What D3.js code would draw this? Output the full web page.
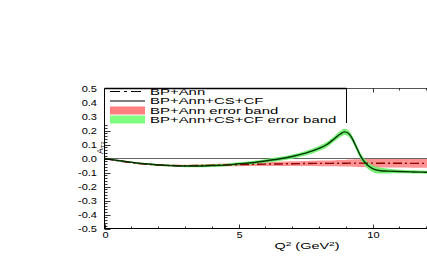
<!DOCTYPE html>
<html><head><meta charset="utf-8">
<script src="https://cdn.jsdelivr.net/npm/d3@7"></script>
<style>body{margin:0;background:#fff}svg{display:block}text{font-family:"Liberation Sans",Arial,sans-serif}</style>
</head><body><svg id="c" width="427" height="262"></svg>
<script>
// Data
const q2 = [0, 0.5, 1, 1.5, 2, 2.5, 3, 3.5, 4, 4.5, 5, 5.5, 6, 6.5, 7, 7.5, 8, 8.3, 8.6, 8.8, 8.95, 9.1, 9.25, 9.4, 9.6, 9.8, 10, 10.3, 10.6, 11, 11.5, 12, 12.5];
const annCsCf = [0, -0.014, -0.027, -0.038, -0.046, -0.051, -0.054, -0.054, -0.051, -0.047, -0.038, -0.03, -0.018, -0.004, 0.014, 0.038, 0.072, 0.1, 0.145, 0.175, 0.19, 0.18, 0.14, 0.08, 0.002, -0.045, -0.072, -0.087, -0.09, -0.093, -0.096, -0.098, -0.099];
const annCsCfErr = [0.001, 0.003, 0.004, 0.005, 0.006, 0.007, 0.008, 0.009, 0.01, 0.01, 0.011, 0.012, 0.013, 0.014, 0.015, 0.016, 0.018, 0.019, 0.02, 0.021, 0.022, 0.022, 0.022, 0.022, 0.023, 0.024, 0.024, 0.021, 0.017, 0.013, 0.012, 0.011, 0.011];
const ann = [0, -0.016, -0.03, -0.04, -0.046, -0.05, -0.051, -0.05, -0.048, -0.046, -0.044, -0.042, -0.04, -0.039, -0.037, -0.036, -0.035, -0.035, -0.034, -0.034, -0.034, -0.033, -0.033, -0.033, -0.033, -0.033, -0.033, -0.034, -0.034, -0.034, -0.035, -0.035, -0.035];
const annErr = [0.001, 0.002, 0.003, 0.004, 0.005, 0.006, 0.007, 0.008, 0.009, 0.01, 0.011, 0.012, 0.013, 0.015, 0.017, 0.018, 0.02, 0.021, 0.022, 0.023, 0.024, 0.025, 0.026, 0.027, 0.028, 0.029, 0.03, 0.03, 0.031, 0.031, 0.031, 0.031, 0.031];
const xTicks = [0, 5, 10];
const yTicks = [0.5, 0.4, 0.3, 0.2, 0.1, 0.0, -0.1, -0.2, -0.3, -0.4, -0.5];
const legendLabels = ["BP+Ann", "BP+Ann+CS+CF", "BP+Ann error band", "BP+Ann+CS+CF error band"];

const svg = d3.select("#c");
const x = d3.scaleLinear().domain([0, 12.5]).range([104.5, 439.5]);
const y = d3.scaleLinear().domain([-0.5, 0.5]).range([228.5, 88.5]);

// stretched text helper (reference glyphs are wide)
function wtext(parent, px, py, sx, size, anchor) {
  return parent.append("g").attr("transform", `translate(${px},${py}) scale(${sx},1)`)
    .append("text").attr("font-size", size).attr("text-anchor", anchor || "start");
}

const pts = q2.map((q, i) => ({q, a: ann[i], ae: annErr[i], c: annCsCf[i], ce: annCsCfErr[i]}));

svg.append("clipPath").attr("id", "pc").append("rect")
  .attr("x", 104.5).attr("y", 88.5).attr("width", 335).attr("height", 140);
const g = svg.append("g").attr("clip-path", "url(#pc)");

// zero line
g.append("line").attr("x1", x(0)).attr("x2", x(12.5)).attr("y1", y(0)).attr("y2", y(0))
  .attr("stroke", "#666").attr("stroke-width", 1);

const curve = d3.curveMonotoneX;
g.append("path").datum(pts).attr("fill", "#ff7f7f").attr("fill-opacity", 0.85)
  .attr("d", d3.area().curve(curve).x(d => x(d.q)).y0(d => y(d.a - d.ae)).y1(d => y(d.a + d.ae)));
g.append("path").datum(pts).attr("fill", "#66ee66").attr("fill-opacity", 0.9)
  .attr("d", d3.area().curve(curve).x(d => x(d.q)).y0(d => y(d.c - d.ce)).y1(d => y(d.c + d.ce)));
g.append("path").datum(pts).attr("fill", "none").attr("stroke", "#8b0000").attr("stroke-width", 1.4)
  .attr("stroke-dasharray", "9,3,2,3")
  .attr("d", d3.line().curve(curve).x(d => x(d.q)).y(d => y(d.a)));
g.append("path").datum(pts).attr("fill", "none").attr("stroke", "#003300").attr("stroke-width", 1.4)
  .attr("d", d3.line().curve(curve).x(d => x(d.q)).y(d => y(d.c)));

// frame
const ax = svg.append("g");
ax.append("line").attr("x1", 104.5).attr("x2", 104.5).attr("y1", 88).attr("y2", 229).attr("stroke", "#000");
ax.append("line").attr("x1", 104).attr("x2", 427).attr("y1", 228.5).attr("y2", 228.5).attr("stroke", "#000");
ax.append("line").attr("x1", 104).attr("x2", 427).attr("y1", 88.5).attr("y2", 88.5).attr("stroke", "#555");

// y ticks
d3.range(-0.5, 0.5001, 0.02).forEach(v => {
  const major = Math.abs(Math.round(v * 10) - v * 10) < 1e-6;
  ax.append("line").attr("x1", 104.5).attr("x2", 104.5 + (major ? 6 : 3))
    .attr("y1", Math.round(y(v)) + 0.5).attr("y2", Math.round(y(v)) + 0.5).attr("stroke", "#000").attr("stroke-width", 0.8);
});
yTicks.forEach(v => {
  wtext(ax, 97, y(v) + 3, 1.3, 8.5, "end").text(v.toFixed(1));
});
// x ticks
d3.range(0, 13, 1).forEach(v => {
  const major = v % 5 === 0;
  const xp = Math.round(x(v)) + 0.5;
  ax.append("line").attr("x1", xp).attr("x2", xp).attr("y1", 228.5).attr("y2", 228.5 - (major ? 4 : 2))
    .attr("stroke", "#000").attr("stroke-width", 0.8);
  ax.append("line").attr("x1", xp).attr("x2", xp).attr("y1", 88.5).attr("y2", 88.5 + (major ? 4 : 2))
    .attr("stroke", "#000").attr("stroke-width", 0.8);
});
xTicks.forEach(v => {
  wtext(ax, x(v) + 1, 237.5, 1.3, 8.5, "middle").text(v);
});
// axis titles
const xt = wtext(ax, 307, 249, 1.7, 8.5, "middle");
xt.append("tspan").text("Q");
xt.append("tspan").attr("dy", -3).attr("font-size", 6).text("2");
xt.append("tspan").attr("dy", 3).text(" (GeV");
xt.append("tspan").attr("dy", -3).attr("font-size", 6).text("2");
xt.append("tspan").attr("dy", 3).text(")");
const yt = ax.append("text").attr("transform", "translate(103,154) rotate(-90)").attr("font-size", 8.5);
yt.append("tspan").text("A");
yt.append("tspan").attr("dy", 2).attr("font-size", 6).text("T2");

// legend
const lg = svg.append("g");
lg.append("rect").attr("x", 105).attr("y", 89).attr("width", 241.5).attr("height", 35).attr("fill", "#fff");
lg.append("line").attr("x1", 104.5).attr("x2", 346.5).attr("y1", 88.5).attr("y2", 88.5).attr("stroke", "#000").attr("stroke-width", 1.5);
lg.append("line").attr("x1", 346.5).attr("x2", 346.5).attr("y1", 88.5).attr("y2", 123).attr("stroke", "#000").attr("stroke-width", 1);
const rowY = [91.5, 101, 110.5, 119.5];
lg.append("line").attr("x1", 110).attr("x2", 145).attr("y1", rowY[0]).attr("y2", rowY[0])
  .attr("stroke", "#000").attr("stroke-width", 1.2).attr("stroke-dasharray", "10,4,3,4");
lg.append("line").attr("x1", 110).attr("x2", 145).attr("y1", rowY[1]).attr("y2", rowY[1])
  .attr("stroke", "#000").attr("stroke-width", 1.2);
lg.append("rect").attr("x", 110).attr("y", rowY[2] - 4).attr("width", 35).attr("height", 8).attr("fill", "#ff7f7f");
lg.append("rect").attr("x", 110).attr("y", rowY[3] - 4).attr("width", 35).attr("height", 8).attr("fill", "#7fff7f");
legendLabels.forEach((t, i) => {
  wtext(lg, 150, rowY[i] + 3, 1.8, 8.3).text(t);
});
</script></body></html>
